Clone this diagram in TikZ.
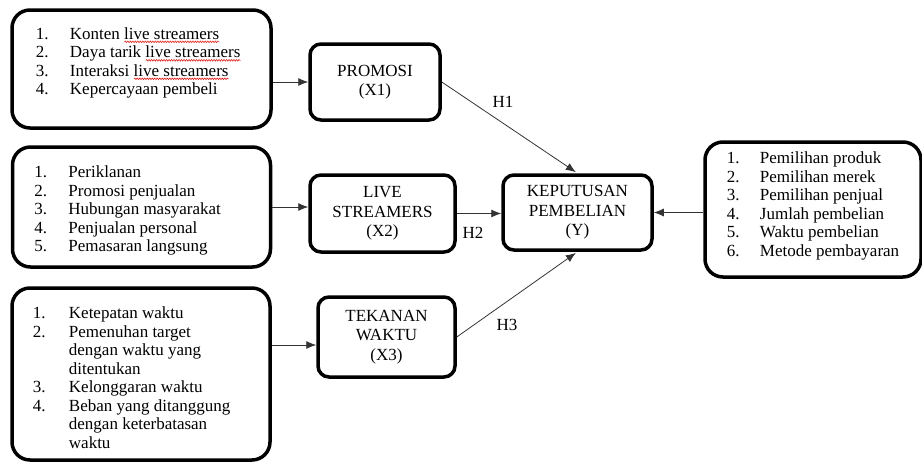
\documentclass[tikz,border=0pt]{standalone}
\usepackage{fontspec}
\setmainfont{Liberation Serif}
\usetikzlibrary{arrows.meta,positioning,decorations.pathmorphing}
\definecolor{Line}{HTML}{333333}
\definecolor{Wave}{HTML}{E0201B}
\newcommand{\wavy}[1]{\setbox0\hbox{#1}\rlap{\raisebox{-3.5pt}{\tikz\draw[Wave,line width=0.6pt,decorate,decoration={snake,amplitude=0.8pt,segment length=2.5pt}] (0,0) -- (\wd0,0);}}\box0}
\newcommand{\fsize}{\fontsize{17}{18.5}\selectfont}

\begin{document}
\begin{tikzpicture}[x=1pt,y=-1pt,
    frame/.style={draw,line width=3.5pt,rounded corners=18pt,inner sep=0pt},
    var/.style={draw,line width=3.5pt,rounded corners=11pt,align=center,inner sep=2pt,font=\fontsize{17}{19.5}\selectfont},
    items/.style={inner sep=0pt,font=\fsize},
    conn/.style={-{Latex[length=10pt,width=8pt]},line width=0.8pt,Line},
    hyp/.style={font=\fsize}]
  \useasboundingbox (0,0) rectangle (922,464);

  % indikator
  \node[frame,minimum width=259pt,minimum height=118pt] (ind1) at (141.5,69) {};
  \node[items,below right=18pt and 25.5pt of ind1.north west] (ind1l) {\begin{tabular}{@{}p{34pt}@{}l@{}}
    1. & Konten \wavy{live streamers}\\
    2. & Daya tarik \wavy{live streamers}\\
    3. & Interaksi \wavy{live streamers}\\
    4. & Kepercayaan pembeli
  \end{tabular}};
  \node[frame,minimum width=258pt,minimum height=120pt] (ind2) at (141.5,207) {};
  \node[items,below right=19.5pt and 23.5pt of ind2.north west] (ind2l) {\begin{tabular}{@{}p{34pt}@{}l@{}}
    1. & Periklanan\\
    2. & Promosi penjualan\\
    3. & Hubungan masyarakat\\
    4. & Penjualan personal\\
    5. & Pemasaran langsung
  \end{tabular}};
  \node[frame,minimum width=258pt,minimum height=172pt] (ind3) at (141,374) {};
  \node[items,below right=19.5pt and 22.5pt of ind3.north west] (ind3l) {\begin{tabular}{@{}p{36pt}@{}l@{}}
    1. & Ketepatan waktu\\
    2. & Pemenuhan target\\
       & dengan waktu yang\\
       & ditentukan\\
    3. & Kelonggaran waktu\\
    4. & Beban yang ditanggung\\
       & dengan keterbatasan\\
       & waktu
  \end{tabular}};
  \node[frame,minimum width=216pt,minimum height=135pt] (ind4) at (813,209.5) {};
  \node[items,below right=10.5pt and 23.5pt of ind4.north west] (ind4l) {\begin{tabular}{@{}p{33pt}@{}l@{}}
    1. & Pemilihan produk\\
    2. & Pemilihan merek\\
    3. & Pemilihan penjual\\
    4. & Jumlah pembelian\\
    5. & Waktu pembelian\\
    6. & Metode pembayaran
  \end{tabular}};

  % variabel
  \node[var,minimum width=130pt,minimum height=76pt] (x1) at (375,82) {PROMOSI\\(X1)};
  \node[var,minimum width=145pt,minimum height=77pt] (x2) at (382.5,213.5) {LIVE\\STREAMERS\\(X2)};
  \node[var,minimum width=137pt,minimum height=80pt] (x3) at (386.5,337) {TEKANAN\\WAKTU\\(X3)};
  \node[var,minimum width=149pt,minimum height=75pt] (y) at (577.5,212.5) {KEPUTUSAN\\PEMBELIAN\\(Y)};

  \draw[conn] (ind1.east |- x1.west) -- (x1.west);
  \draw[conn] (ind2.east) -- (ind2.east -| x2.west);
  \coordinate (c3) at ([yshift=-8pt]x3.west);
  \draw[conn] (ind3.east |- c3) -- (c3);
  \draw[conn] (ind4.west |- y.east) -- (y.east);

  \draw[conn,shorten >=2pt] (x1.east) -- (y.north);
  \draw[conn] (x2.east) -- (x2.east -| y.west);
  \draw[conn,shorten >=2pt] (x3.east) -- (y.south);
  \node[hyp] (h1) at (503,102) {H1};
  \node[hyp] (h2) at (473,233) {H2};
  \node[hyp] (h3) at (507,325) {H3};
\end{tikzpicture}
\end{document}
